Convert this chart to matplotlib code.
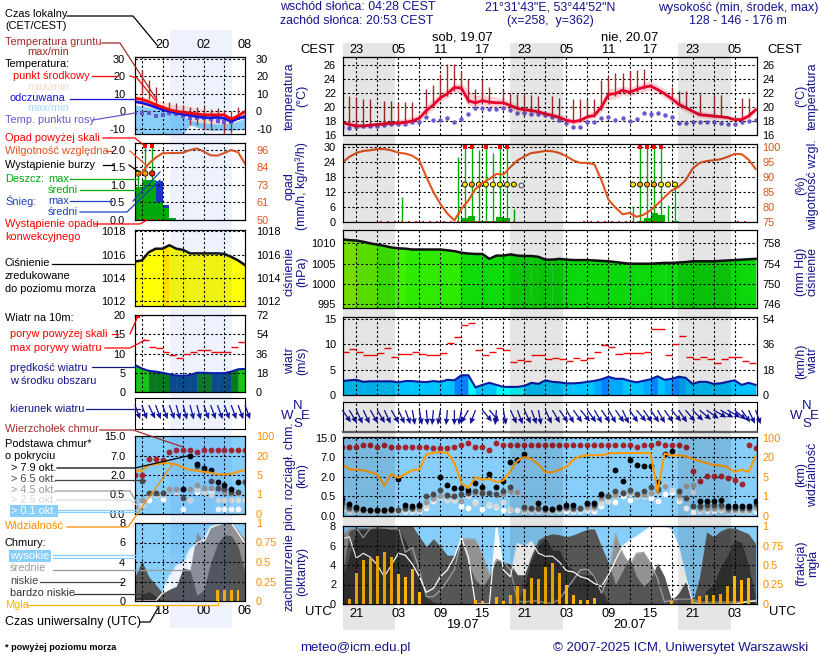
"""Meteogram 19-20.07: left = previous forecast stub, right = main panels."""
import numpy as np
import matplotlib
matplotlib.use("Agg")
import matplotlib.pyplot as plt

plt.rcParams["font.family"] = ["Liberation Sans", "DejaVu Sans"]
plt.rcParams["font.size"] = 7.9

W, H = 820, 660
_ = np.nan

# ---- main panels: hours since 18.07 00 UTC ----
hours = np.arange(19, 79)
temp = [17.8, 17.5, 17.3, 17.3, 17.4, 17.5, 17.6, 17.7, 17.7, 17.8, 18.0, 18.4, 19.5, 20.3, 21.3, 21.9, 22.8, 22.7, 20.9, 20.6,
        20.9, 20.7, 20.6, 20.6, 20.2, 19.8, 19.6, 19.5, 19.3, 19.0, 18.8, 18.5, 18.1, 17.9, 18.1, 18.6, 18.8, 20.0, 21.8, 21.9,
        22.4, 22.1, 22.5, 22.8, 23.0, 22.5, 21.9, 21.2, 20.4, 19.9, 19.4, 18.9, 18.8, 18.7, 18.6, 18.5, 18.2, 18.2, 18.7, 19.6]
temp_max = [18.1, 18.0, 17.7, 17.7, 17.7, 17.8, 17.9, 18.0, 18.2, 18.4, 18.6, 19.0, 20.3, 21.2, 22.0, 22.6, 23.4, 23.4, 22.4, 21.6,
            21.8, 21.6, 21.4, 21.2, 20.8, 20.3, 20.0, 19.9, 19.7, 19.4, 19.2, 19.0, 18.7, 18.3, 18.5, 19.1, 19.5, 20.8, 22.6, 22.7,
            23.0, 22.8, 23.1, 23.5, 23.7, 23.2, 22.6, 21.8, 21.0, 20.4, 19.7, 19.4, 19.3, 19.1, 18.9, 18.6, 18.6, 18.7, 19.2, 20.0]
temp_min = [17.5, 17.2, 17.0, 17.0, 17.1, 17.2, 17.3, 17.4, 17.4, 17.4, 17.6, 17.9, 18.9, 19.6, 20.7, 21.3, 22.2, 21.9, 20.2, 20.1,
            20.3, 20.1, 20.0, 19.9, 19.7, 19.3, 19.2, 19.1, 18.9, 18.7, 18.5, 18.1, 17.7, 17.5, 17.7, 18.2, 18.4, 19.3, 21.0, 21.2,
            21.7, 21.5, 21.9, 22.2, 22.4, 21.9, 21.3, 20.6, 19.9, 19.3, 18.9, 18.5, 18.4, 18.3, 18.3, 18.2, 17.9, 17.8, 18.3, 19.2]
dew = [17.1, 17.0, 17.1, 17.3, 17.3, 17.3, 17.4, 17.5, 17.6, 17.6, 17.8, 17.9, 18.5, 18.1, 18.2, 18.4, 17.9, 18.3, 19.0, 19.8,
       19.8, 19.7, 19.7, 19.8, 19.5, 19.1, 19.1, 19.0, 19.0, 18.8, 18.5, 18.1, 17.7, 17.2, 17.2, 17.8, 17.8, 18.4, 18.6, 18.2,
       18.4, 18.0, 18.3, 19.1, 19.0, 19.1, 18.9, 18.5, 17.7, 17.7, 17.9, 17.9, 17.8, 17.8, 17.7, 17.6, 17.5, 17.8, 18.0, 18.2]
ground_hours = [20, 21, 22, 23, 25, 26, 27, 28, 29, 31, 32, 33, 34, 35, 36, 37, 38, 39, 40, 42, 43, 44, 45, 46, 47, 49, 50, 52, 53,
                54, 55, 56, 57, 58, 59, 60, 61, 62, 66, 67, 68, 70, 72, 73, 76, 77]
ground_max = [21.5, 21.4, 21.2, 21.2, 20.8, 20.9, 20.6, 20.7, 20.7, 22.5, 23.2, 24.7, 26.1, 26.2, 25.2, 24.0, 22.5, 23.8, 22.8, 22.4,
              22.0, 21.9, 21.7, 21.7, 21.6, 21.5, 21.3, 21.2, 21.2, 21.2, 21.2, 23.9, 24.4, 24.8, 24.8, 25.2, 25.3, 25.4, 22.9,
              22.3, 22.3, 21.9, 21.7, 21.7, 21.3, 21.3]
ground_min = [17.0, 17.1, 17.2, 17.3, 17.5, 17.6, 17.6, 17.7, 17.9, 19.0, 20.0, 21.0, 21.6, 22.3, 22.4, 20.6, 20.3, 20.5, 20.4, 20.4,
              20.0, 19.7, 19.4, 19.3, 19.1, 18.6, 18.3, 17.7, 17.9, 18.4, 18.6, 19.6, 21.2, 21.5, 22.0, 21.9, 22.2, 22.5, 21.0,
              20.2, 19.7, 18.8, 18.6, 18.5, 18.1, 18.5]
humidity = [94.8, 96.7, 98.0, 98.7, 98.9, 99.3, 99.3, 98.9, 98.1, 97.8, 97.1, 95.5, 90.0, 85.0, 81.0, 77.8, 75.5, 79.4, 82.2, 86.0,
            88.0, 89.4, 91.0, 90.8, 93.3, 95.5, 96.9, 98.0, 98.3, 98.7, 98.6, 98.0, 96.9, 95.5, 94.7, 94.7, 94.2, 88.9, 82.4, 79.8,
            77.6, 78.0, 76.7, 77.4, 78.9, 81.0, 83.3, 85.5, 86.7, 88.9, 92.8, 94.7, 95.3, 95.6, 95.9, 96.7, 97.7, 97.6, 95.8, 92.7]
rain_max_hours = [27.5, 35.5, 36.5, 37.5, 38.5, 39.5, 40.5, 41.5, 42.5, 43.5, 60.5, 61.5, 62.5, 63.5, 64.5, 65.5, 66.5]
rain_max = [10, 26, 99, 99, 28.7, 99, 27.6, 99, 99, 5.3, 6.5, 99, 99, 99, 99, 7, 15]
rain_mean_hours = [36, 37, 38, 39, 40, 41, 42, 61, 62, 63, 64, 65, 66]
rain_mean = [1.5, 2.3, 0.3, 0.4, 0.3, 2.0, 1.5, 0.5, 1.5, 3.7, 2.7, 0.1, 0.3]
conv_hours = [24.5, 25.5, 26.5, 27.5, 28.5, 29.5, 30.5, 31.5, 32.5, 33.5, 34.5, 35.5, 36.5, 37.5, 38.5, 39.5, 40.5, 41.5, 42.5, 43.5,
              53.5, 54.5, 55.5, 56.5, 57.5, 58.5, 59.5, 60.5, 61.5, 62.5, 63.5, 64.5, 75.5, 76.5]
storm_hours = [36.5, 37.5, 38.5, 39.5, 40.5, 41.5, 42.5, 43.5, 60.5, 61.5, 62.5, 63.5, 64.5, 65.5, 66.5]
storm_colors = ["#ffee00", "#ffa500", "#ffee00", "#ffee00", "#ffee00", "#ffee00", "#ffee00", "#ffee00",
                "#ffee00", "#ffa500", "#ffa500", "#ffa500", "#ffee00", "#ffee00", "#ffee00"]
storm_low_hours = [44.5]
pressure = [1011, 1010.8, 1010.7, 1010.4, 1010, 1009.7, 1009.4, 1009, 1008.8, 1008.7, 1008.5, 1008.5, 1008.5, 1008.5, 1008.5, 1008.3,
            1008.1, 1007.7, 1007.5, 1007.4, 1007.4, 1006.2, 1007, 1007, 1007.3, 1007, 1006.9, 1006.9, 1006.7, 1006, 1006, 1006.2,
            1006, 1005.9, 1005.9, 1005.9, 1005.8, 1005.7, 1005.6, 1005.4, 1005.2, 1005, 1005, 1005, 1005, 1005.1, 1005.2, 1005.2,
            1005.3, 1005.4, 1005.6, 1005.6, 1005.6, 1005.6, 1005.7, 1005.8, 1005.9, 1006, 1006.1, 1006.2]
wind = [2.75, 2.9, 3.0, 2.6, 2.7, 2.7, 2.7, 2.7, 2.5, 2.75, 2.75, 2.6, 2.55, 2.75, 2.6, 3.0, 2.9, 3.9, 3.9, 1.5,
        2.0, 2.4, 2.0, 1.6, 1.6, 1.6, 1.8, 2.4, 2.2, 2.9, 2.6, 2.5, 2.3, 2.3, 2.4, 2.6, 2.8, 3.1, 3.6, 3.2,
        3.2, 2.8, 2.5, 2.8, 3.1, 3.7, 3.0, 3.2, 3.6, 3.4, 2.2, 2.6, 2.6, 2.2, 2.3, 2.6, 2.9, 2.0, 2.4, 2.0]
gust = [8.55, 9.1, 8.4, 7.8, 7.8, 8.2, 9.2, 7.6, 8.1, 8.1, 8.4, 8.0, 7.8, 7.8, 8.2, 10.2, 11.4, 13.9, 14.3, 8.8,
        7.8, 8.4, 9.2, 8.8, 6.6, 7.0, 6.8, 7.8, 7.8, 7.2, 7.4, 7.2, 6.8, 7.4, 7.0, 7.4, 8.4, 9.9, 9.5, 8.0,
        8.2, 8.2, 8.2, 8.4, 13.0, 13.0, 7.8, 10.0, 11.6, 7.6, 7.2, 7.6, 7.2, 6.4, 7.2, 7.6, 7.6, 6.8, 6.4]
wind_from = [325, 330, 335, 335, 330, 330, 335, 330, 335, 340, 350, 350, 355, 5, 10, 5, 0, 10, 30, 20,
             320, 320, 5, 350, 335, 340, 335, 340, 350, 335, 330, 325, 330, 325, 320, 325, 330, 325, 330, 325,
             335, 325, 320, 325, 325, 330, 325, 320, 325, 320, 315, 310, 305, 300, 300, 300, 310, 325, 335, 340]
cloud_top = [11.3, 11.3, 11.3, 12.0, 12.0, 11.3, 12.0, 11.3, 11.3, 11.3, 11.3, 11.3, 11.3, 10.9, 10.9, 10.9, 11.3, 12.0, 12.6, 11.3,
             11.3, 9.9, 12.6, 12.0, 12.0, 12.0, 12.0, 12.0, 12.0, 12.0, 12.0, 12.0, 12.0, 12.0, 12.0, 12.0, 12.0, 12.0, 12.0, 12.0,
             12.0, 12.0, 11.3, 12.0, 12.0, 12.6, 12.0, 12.0, 12.0, 11.3, 3.4, 1.65, 2.3, 2.3, 2.1, 1.9, 1.75, 1.47, 12.0, 10.9]
base_79 = [.44, .31, .24, .17, .16, .16, .16, .17, 1.8, .28, .26, .28, _, _, 1.96, 1.4, 1.13, 1.13, 1.0, 1.52,
           1.25, 2.7, 1.25, 1.65, 5.9, 6.4, 8.5, _, .34, .21, .17, .22, .28, .28, _, .34, .34, .67, _, 3.85,
           1.65, 6.2, 4.9, 4.8, 4.7, 1.6, 8.1, 9.5, _, _, _, .37, .39, .39, .4, .26, .25, .26, .26, .37]
base_65 = [.32, .22, .17, .16, .15, .15, .15, .16, .16, .2, .2, .25, .52, .7, 1.0, .6, .55, .7, .75, .95,
           .75, .75, .7, .9, 1.2, _, .22, .2, .2, .18, .17, .2, .24, .2, .2, .3, .28, .6, .55, .9,
           .75, 1.0, .7, .95, 1.2, 1.1, _, _, .9, .45, .25, .25, .27, .28, .28, .2, .2, .2, .2, .3]
base_45 = [.24, .18, .15, .15, .14, .14, .14, .15, .15, .17, .17, .19, .35, .45, .55, .55, .52, .38, .75, .75,
           .9, .75, .6, .65, .93, .85, .18, .18, .17, .16, .15, .17, .2, .17, .17, .24, .22, .45, .55, .6,
           .8, .85, .6, .6, .75, .95, 1.3, _, .6, 1.3, 1.35, .2, .2, .2, .22, .16, .16, .16, .16, .22]
base_25 = [.19, .15, .13, .13, .13, .13, .13, .13, .13, .15, .15, .16, .25, .4, .5, .42, .42, .38, .55, .32,
           .75, .3, .25, .35, .17, .75, .16, .16, .15, .14, .14, .15, .17, .15, .15, .19, .18, .32, .38, .55,
           .65, .7, .6, .58, .65, .85, 1.35, 1.0, .45, 1.3, .85, .16, .17, .17, .18, .14, .14, .14, .14, .18]
base_01 = [.15, .13, .12, .12, .12, .12, .12, .12, .12, .13, .13, .14, .2, .38, .48, .42, .42, .25, .2, .36,
           .18, .27, .24, .15, .15, .15, .14, .14, .13, .13, .13, .13, .14, .13, .13, .15, .14, .25, .38, .36,
           .55, .42, .5, .5, .45, .38, .7, .8, .38, .2, .1, .14, .14, .14, .15, .12, .12, .12, .12, .14]
visibility = [14.9, 10.5, 10.5, 10.0, 8.5, 6.7, 3.2, 7.1, 4.8, 7.1, 10.0, 10.5, 31, 37.6, 41, 37.6, 15.6, 3.7, 2.7, 4.9,
              4.4, 4.6, 3.9, 4.3, 9.2, 17.4, 20, 18.8, 14.3, 8.5, 8.5, 10.5, 12.5, 18.2, 24, 28, 28, 28, 35, 37,
              37, 37, 37, 37, 36, 2.0, 35, 27, 28, 24, 18.8, 17, 15.6, 14, 13.6, 12.5, 8.7, 10.5, 8.7, 24]
cloud_high = [6.7, 6.9, 4.7, 5.2, 4.8, 4.0, 2.8, 4.0, 5.2, 5.0, 4.1, 2.8, 1.2, 1.6, 2.8, 3.5, 4.8, 6.8, 4.8, 0,
              0, 0, 8.0, 3.5, 2.8, 6.2, 5.9, 6.4, 5.2, 4.9, 4.9, 4.3, 3.4, 3.3, 2.8, 2.6, 2.1, 1.8, 3.0, 4.5,
              5.9, 6.5, 6.9, 7.4, 7.9, 8.0, 7.9, 7.6, 5.9, 2.8, .2, 0, 0, 0, 0, 0, 0, .1, .3, .3]
cloud_mid = [7.0, 7.7, 7.8, 6.8, 7.8, 7.8, 7.8, 7.7, 7.8, 5.3, 5.8, 3.5, .75, .75, 1.4, 2.4, 3.5, 6.6, 6.7, 6.6,
             5.0, 3.0, 4.6, 4.3, 3.5, .3, .2, .3, .3, .1, .1, .5, 1.5, 2.5, 3.5, 3.6, 2.8, 1.1, 2.8, 7.2,
             5.2, 4.0, 5.2, 5.3, 4.2, 2.6, .2, .4, .5, .5, .5, .2, .2, .2, .2, .2, .2, .2, .2, .4]
cloud_low = [3.0, 7.5, 7.8, 7.8, 7.8, 7.9, 7.9, 7.9, 7.9, 8.0, 8.0, 6.9, 5.9, 6.7, 5.9, 5.0, 5.0, 6.5, 4.1, 2.5,
             1.8, 2.8, 4.5, 4.3, 4.1, 3.0, 3.0, 5.0, 6.6, 7.0, 7.2, 7.1, 6.9, 7.1, 7.4, 7.7, 7.7, 5.9, 4.2, 2.0,
             3.4, 4.8, 2.8, 1.8, 2.5, 4.2, 2.8, .4, 1.1, 2.3, .2, 2.8, 7.4, 6.9, 7.5, 7.8, 7.8, 7.5, 7.2, 6.2]
cloud_vlow = [2.8, 5.0, 7.5, 7.6, 7.6, 7.9, 7.9, 7.6, 7.6, 6.5, 4.5, 2.5, .7, .2, 0, 0, 0, 0, 0, 0,
              0, 0, 0, 0, 0, 0, 2.0, 4.5, 6.0, 6.8, 5.5, 5.5, 4.0, 3.5, 3.0, 3.0, 3.0, 1.5, 0, 0,
              0, 0, 0, 0, 0, 0, 0, 0, 0, 0, 0, 0, 1.4, 2.0, 3.8, 5.0, 6.6, 6.3, 4.0, .5]
fog_hours = [20, 21, 22, 23, 24, 25, 26, 27, 28, 29, 30, 38, 39, 41, 42, 43, 44, 45, 46, 47, 48, 49, 50, 51, 52, 53, 54, 55, 66, 69, 70, 71, 72, 73, 74, 75, 76, 77]
fog = [.07, .4, .57, .59, .62, .67, .6, .39, .34, .45, .16, .05, .04, .09, .04, .11, .23, .19, .33, .32, .48, .52, .4, .25, .11, .05, .05, .08,
       .04, .06, .1, .11, .11, .13, .23, .36, .31, .33]

# ---- small left panels: the preceding afternoon ----
l_hours = np.arange(14, 31)
l_temp = [7.4, 6.8, 5.5, 3.8, 2.3, 1.0, 0.0, -0.5, -1.0, -1.5, -2.0, -2.0, -2.0, -2.0, -4.5, -2.5, -0.2]
l_temp_max = [9.4, 8.8, 7.5, 6.5, 5.5, 4.5, 3.6, 3.2, 2.7, 1.8, .8, .4, -.2, -1.2, -3, -1.8, -.2]
l_feels = [5.5, 4.8, 3.7, 2.3, 1.0, 0.0, -1.0, -1.8, -2.3, -3.0, -3.5, -3.7, -3.4, -4.0, -5.8, -4.0, -3.0]
l_feels_max = [3.6, 3, 2.2, 1.5, .8, -.2, -1.5, -3, -5, -6, -6.5, -7, -7.2, -7, -6.8, -5.5, -4]
l_feels_min = [-14, -14, -14, -14, -14, -14, -14, -13, -7.5, -9, -10, -10.8, -10.8, -10.8, -10.8, -10.6, -10]
l_dew = [-1.2, -1.2, -1.2, -2.5, -2.2, -1.2, -1.8, -2.5, -4, -4, -4, -4.6, -5.4, -6, -6, -4, -3]
l_ground_hours = [15, 16, 17, 19, 20, 21, 22, 23, 24, 25, 26, 27, 28, 29]
l_ground_max = [23.5, 17.6, 14, 5.5, 4.6, 3.6, 2.7, 2.7, 2.7, 1.2, 1.7, .8, 0, 2.7]
l_ground_min = [9, 7, 4, -2, -2, -3.8, -7.6, -8, -10.6, -10.6, -6.8, -12.8, -12.3, -3.8]
l_humidity = [79, 81, 87, 91, 93.8, 94, 94, 94.2, 96, 97, 95, 92.5, 92.3, 94, 96, 94.5, 87]
l_rain = [.95, 1.14, 1.14, .52, .33, .07]
l_snow = [0, 0, 0, 1.1, .43, 0]
l_rain_max_hours = [14.5, 15.5, 16.5]
l_rain_max = [1.33, 99, 99]
l_storm_colors = ["#ffee00", "#ffa500", "#ff2000"]
l_conv_hours = [14.5, 15.5, 16.5, 17.5]
l_pressure = [1015.4, 1015.5, 1016.2, 1016.5, 1016.5, 1016.8, 1016.5, 1016.4, 1016.1, 1016.1, 1016.1, 1016.1, 1016.1, 1016.05, 1015.8, 1015.5, 1015.1]
l_wind = [7, 6.1, 5.5, 5.3, 5, 4.6, 4.3, 4.2, 4.4, 5, 5, 4.9, 4.9, 4.9, 5.3, 5.9, 6]
l_gust = [_, 13.5, 11.6, 11.4, 10.5, 9.6, 8.8, 9.8, 10.4, 10.8, 10.8, 10.4, 10.4, 10.4, 11.7, 12.9]
l_wind_from = [340, 340, 335, 340, 340, 340, 345, 345, 345, 345, 340, 340, 340, 340, 340, 340, 340]
l_cloud_top = [2, 2, 6.2, 6.2, 5.8, 8.5, 9.4, 9.4, 9.4, 8.5, 9.4, 9.4, 9.4, 9.4, 9.4, 9.4, 9.4]
l_base_79 = [_, _, _, _, _, _, _, .9, 6.8, 4.7, 3.9, 3.2, 1.5, 1.2, .9, 1.5, _]
l_base_65 = [_, 1.54, .65, .65, .65, _, _, .4, _, 4.2, 3.4, 1.54, 1.0, .9, .72, .72, 1.5]
l_base_45 = [.2, .36, .6, .6, .6, .9, .9, .9, .9, 1.23, .97, .97, .9, .72, .6, .6, 1.54]
l_base_25 = [.2, .23, .49, .49, .49, .9, .72, .38, .36, .9, .72, .49, .36, .36, .36, .36, .36]
l_base_01 = [_, .23, .36, _, .38, _, _, .13, .36, .72, .72, .72, .13, .13, .13, .13, _]
l_visibility = [8.3, 8.3, 12.7, 13.4, 14, 14, 13, 10.7, 8.9, 8.3, 7.5, 6.8, 5.5, 5.5, 5.8, 7.5, 8.9]
l_cloud_high = [0, 0, 0, 0, .8, 2.5, 3.6, 3.9, 5.3, 5.9, 6.3, 7.6, 7.8, 8, 8, 7, 5.9]
l_cloud_mid = [0, 0, 0, 0, 0, 0, 0, 0, 3.2, 7.1, 6, 7.5, 7.8, 8, 8, 7.3, 6.3]
l_cloud_low = [2.5, 4.1, 2.5, 1.7, .8, 1.2, 1.5, 3.4, 3.2, .6, 1.1, 3.9, 5.9, 6.8, 6.7, 5.6, 2.9]
l_cloud_vlow = [.3, .5, 1, .5, 0, 0, 0, 0, 0, 0, 0, 0, 0, 0, 0, 0, 0]
l_fog_hours = [26, 27, 28, 29]
l_fog = [.14, .14, .14, .14]

# ---- ticks ----
base_ticks = [0, 0.5, 2, 7, 15]
vis_ticks = [0, 1, 5, 20, 100]
main_xlim = (19.1, 78.2)
left_xlim = (14, 30)
nights = [(18.88, 26.47), (42.88, 50.47), (66.88, 74.47)]
left_night = (19.1, 28.1)
utc_ticks = [21, 27, 33, 39, 45, 51, 57, 63, 69, 75]
utc_labels = ["21", "03", "09", "15", "21", "03", "09", "15", "21", "03"]
cest_labels = ["23", "05", "11", "17", "23", "05", "11", "17", "23", "05"]

NAVY = "#14148c"
BROWN = "#a52a2a"
HUM = "#e2531c"
VIS = "#ff8c00"
FOG = "#ffb400"
SKY = "#87cefa"
TIME_SIZE = 9.2

fig = plt.figure(figsize=(W / 100, H / 100), dpi=100, facecolor="white")


def panel(x0, x1, y0, y1, xlim, ylim, yticks, ylabels, grid_x, pad=5):
    ax = fig.add_axes([x0 / W, 1 - y1 / H, (x1 - x0) / W, (y1 - y0) / H])
    ax.set_xlim(xlim)
    ax.set_ylim(ylim)
    ax.set_xticks(grid_x)
    ax.set_xticklabels([])
    ax.set_yticks(yticks)
    ax.set_yticklabels(ylabels)
    ax.tick_params(length=0, pad=pad)
    ax.set_axisbelow(False)
    ax.grid(True, color="black", linestyle=(0, (2, 2)), linewidth=0.8)
    ax.patch.set_alpha(0)
    return ax


def right_axis(ax, ylim, yticks, ylabels, color="black", pad=4):
    tw = ax.twinx()
    tw.set_ylim(ylim)
    tw.set_yticks(yticks)
    tw.set_yticklabels(ylabels, color=color)
    tw.tick_params(length=0, pad=pad)
    return tw


def column_fill(ax, xs, ys, colors, bottom):
    # one colour per hourly column under the line, taken from the column's end hour
    for i in range(len(xs) - 1):
        ax.fill_between(xs[i:i + 2], ys[i:i + 2], bottom, color=colors[i + 1], linewidth=0.4, zorder=1)


def to_level(values, ticks):
    return np.interp(values, ticks, np.arange(5))


def pressure_color(p):
    stops = [1005, 1006.5, 1007.5, 1008.5, 1009.5, 1010.5, 1011]
    cols = ["#0ad80a", "#0edc0a", "#2eea00", "#40f000", "#66f500", "#80f800", "#a8f500"]
    return cols[int(np.searchsorted(stops, p)) - 1] if p > stops[0] else cols[0]


def wind_color(v):
    if v >= 3.5:
        return "#0a80ff"
    if v >= 3.05:
        return "#00a8ff"
    if v >= 1.9:
        return "#00c4ff"
    return "#00ffff"


def left_wind_color(v):
    if v >= 5.9:
        return "#18c418"
    if v >= 4.95:
        return "#0a7a1e"
    return "#0a4a86"


def time_labels(ax, ticks, labels, pad):
    ax.xaxis.remove_overlapping_locs = False
    ax.set_xticks(ticks, minor=True)
    ax.set_xticklabels(labels, minor=True, size=TIME_SIZE)
    ax.tick_params(axis="x", which="minor", length=0, pad=pad)


def top_labels(ax, ticks, labels, pad):
    top = ax.secondary_xaxis("top")
    top.set_xticks(ticks)
    top.set_xticklabels(labels, size=TIME_SIZE)
    top.tick_params(length=0, pad=pad)


# ---- main column ----
main_grid = np.arange(21, 78, 3)
ax = panel(343, 757, 57, 135, main_xlim, (16, 27.14), [16, 18, 20, 22, 24, 26], ["16", "18", "20", "22", "24", "26"], main_grid)
ax.fill_between(hours, temp_min, temp_max, color="#ffd0d8", linewidth=0, zorder=1)
ax.vlines(ground_hours, ground_min, ground_max, color=BROWN, lw=1, zorder=3)
ax.plot(hours, dew, linestyle="none", marker="o", ms=2.2, color="#6a5acd", zorder=3.5)
ax.plot(hours, temp, color="#e8002c", lw=2, zorder=4)
right_axis(ax, (16, 27.14), [16, 18, 20, 22, 24, 26], ["16", "18", "20", "22", "24", "26"])
top_labels(ax, utc_ticks, cest_labels, 1)

ax = panel(343, 757, 144, 222, main_xlim, (0, 31.2), [0, 6, 12, 18, 24, 30], ["0", "6", "12", "18", "24", "30"], main_grid)
ax.bar(rain_mean_hours, rain_mean, width=1, align="edge", color="#00b000", zorder=2)
ax.vlines(rain_max_hours, 0, np.minimum(rain_max, 30), color="#00b000", lw=1, zorder=3)
over = [h for h, v in zip(rain_max_hours, rain_max) if v > 30]
ax.plot(over, [30] * len(over), "s", ms=2.2, mew=0, color="red", zorder=4)
ax.plot(conv_hours, [0] * len(conv_hours), "s", ms=2, mew=0, color="#f01010", clip_on=False, zorder=4)
ax.scatter(storm_hours, [15] * len(storm_hours), s=13, c=storm_colors, edgecolors="black", linewidths=0.6, zorder=5)
ax.scatter(storm_low_hours, [15], s=13, c="white", edgecolors="#555555", linewidths=0.7, zorder=5)
tw = right_axis(ax, (75, 101), [75, 80, 85, 90, 95, 100], ["75", "80", "85", "90", "95", "100"], HUM)
tw.plot(hours, humidity, color=HUM, lw=1.5)

ax = panel(343, 757, 230, 308, main_xlim, (994.1, 1013.3), [995, 1000, 1005, 1010], ["995", "1000", "1005", "1010"], main_grid)
column_fill(ax, hours, pressure, [pressure_color(p) for p in pressure], 994.1)
ax.plot(hours, pressure, color="#111111", lw=1.8, zorder=3)
right_axis(ax, (994.1, 1013.3), [995, 1000, 1005, 1010], ["746", "750", "754", "758"])

ax = panel(343, 757, 317, 395, main_xlim, (0, 15.4), [0, 5, 10, 15], ["0", "5", "10", "15"], main_grid)
column_fill(ax, hours, wind, [wind_color(v) for v in wind], 0)
ax.plot(hours, wind, color="#0a1aa0", lw=1.5, zorder=3)
ax.hlines(gust, hours[:-1], hours[:-1] + 1, color="red", lw=1, zorder=3)
right_axis(ax, (0, 15.4 * 3.6), [0, 18, 36, 54], ["0", "18", "36", "54"])

ax = panel(343, 757, 402, 432, main_xlim, (0, 1), [], [], main_grid)
d = np.radians(wind_from)
ax.quiver(hours, [0.73] * len(hours), -np.sin(d) * 15, -np.cos(d) * 15, units="dots", angles="uv", scale_units="dots", scale=1,
          width=1.3, headwidth=4.5, headlength=5, headaxislength=4.5, color="#14149a", zorder=3, clip_on=False)
ax.spines["bottom"].set_color("#666666")
ax.spines["bottom"].set_linewidth(1.6)

ax = panel(343, 757, 437, 516, main_xlim, (0, 4.03), [0, 1, 2, 3, 4], ["0.0", "0.5", "2.0", "7.0", "15.0"], main_grid)
ax.set_facecolor(SKY)
ax.patch.set_alpha(1)
base_series = [(base_01, "white"), (base_25, "#d8d8d8"), (base_45, "#999999"), (base_65, "#4a4a4a"), (base_79, "black")]
ax.plot(hours, to_level(cloud_top, base_ticks), "o", ms=4.2, mew=0, color="#a5242c", zorder=3)
for vals, col in base_series:
    ax.plot(hours, to_level(vals, base_ticks), "o", ms=4.2, mew=0, color=col, zorder=3)
tw = right_axis(ax, (0, 4.03), [0, 1, 2, 3, 4], ["0", "1", "5", "20", "100"], VIS)
tw.plot(hours, to_level(visibility, vis_ticks), color="#ff9a00", lw=1.5)

ax = panel(343, 757, 526, 604, main_xlim, (0, 8), [0, 2, 4, 6, 8], ["0", "2", "4", "6", "8"], main_grid)
ax.set_facecolor(SKY)
ax.patch.set_alpha(1)
ax.fill_between(hours, 0, cloud_high, color="white", linewidth=0, zorder=1)
ax.fill_between(hours, 0, cloud_mid, color="#929292", linewidth=0, zorder=1.1)
ax.fill_between(hours, 0, cloud_low, color="#565656", linewidth=0, zorder=1.2)
ax.fill_between(hours, 0, cloud_vlow, color="#333333", linewidth=0, zorder=1.3)
ax.plot(hours, cloud_mid, color="#a0a0a0", lw=0.9, zorder=1.5)
ax.plot(hours, cloud_high, color="white", lw=0.9, zorder=1.6)
time_labels(ax, utc_ticks, utc_labels, 3)
tw = right_axis(ax, (0, 1), [0, .25, .5, .75, 1], ["0", "0.25", "0.5", "0.75", "1"], VIS)
tw.bar(fog_hours, fog, width=0.38, color=FOG)

# ---- left column ----
left_grid = [15, 18, 21, 24, 27]
PL = 7
PR = 8
ax = panel(135, 245, 57, 134, left_xlim, (-12.9, 30.9), [-10, 0, 10, 20, 30], ["-10", "0", "10", "20", "30"], left_grid, PL)
ax.fill_between(l_hours, l_feels_max, l_temp_max, color="#fde3d6", linewidth=0, zorder=1)
ax.fill_between(l_hours, l_feels_min, l_feels_max, color=SKY, linewidth=0, zorder=1.1)
ax.vlines(l_ground_hours, l_ground_min, l_ground_max, color=BROWN, lw=1, zorder=3)
ax.plot(l_hours, l_dew, linestyle="none", marker="s", ms=2.6, mew=0, color="#6a5acd", zorder=3.3)
ax.plot(l_hours, l_feels, color="#1414e0", lw=2, zorder=3.4)
ax.plot(l_hours, l_temp, color="red", lw=2, zorder=4)
right_axis(ax, (-12.9, 30.9), [-10, 0, 10, 20, 30], ["-10", "0", "10", "20", "30"], pad=PR)
top_labels(ax, [18, 24, 30], ["20", "02", "08"], 4)

ax = panel(135, 245, 143, 220, left_xlim, (0, 2.2), [0, .5, 1, 1.5, 2], ["0.0", "0.5", "1.0", "1.5", "2.0"], left_grid, PL)
ax.bar(l_hours[:6], l_snow, width=1, align="edge", color="#1a34c8", zorder=1.5)
ax.bar(l_hours[:6], l_rain, width=1, align="edge", color="#00a80c", zorder=2)
ax.vlines(l_rain_max_hours, 0, np.minimum(l_rain_max, 2.12), color="#00a80c", lw=1, zorder=3)
ax.plot([15.5, 16.5], [2.12, 2.12], "s", ms=2.4, mew=0, color="red", zorder=4)
ax.plot(l_conv_hours, [0] * 4, "s", ms=2, mew=0, color="#f01010", zorder=4, clip_on=False)
ax.scatter(l_rain_max_hours, [1.33] * 3, s=15, c=l_storm_colors, edgecolors="black", linewidths=0.6, zorder=5)
tw = right_axis(ax, (50, 100.6), [50, 61.5, 73, 84.5, 96], ["50", "61", "73", "84", "96"], HUM, PR)
tw.plot(l_hours, l_humidity, color=HUM, lw=1.5)

ax = panel(135, 245, 230, 306, left_xlim, (1011.6, 1018.1), [1012, 1014, 1016, 1018], ["1012", "1014", "1016", "1018"], left_grid, PL)
column_fill(ax, l_hours, l_pressure, ["#ffdd00" if p > 1016.6 else "#ffff00" for p in l_pressure], 1011.6)
ax.plot(l_hours, l_pressure, color="#111111", lw=1.8, zorder=3)
right_axis(ax, (1011.6, 1018.1), [1012, 1014, 1016, 1018], ["1012", "1014", "1016", "1018"], pad=PR)

ax = panel(135, 245, 315, 392, left_xlim, (0, 20), [0, 5, 10, 15, 20], ["0", "5", "10", "15", "20"], left_grid, PL)
for i in range(len(l_hours) - 1):
    ax.fill_between(l_hours[i:i + 2], l_wind[i:i + 2], 0, color=left_wind_color(l_wind[i]), linewidth=0.4, zorder=1)
ax.plot(l_hours, l_wind, color="#0a1aa0", lw=1.5, zorder=3)
ax.hlines(l_gust, l_hours[:-1], l_hours[:-1] + 1, color="red", lw=1, zorder=3)
ax.plot([14.5], [19.8], "s", ms=2.4, mew=0, color="red", zorder=4)
right_axis(ax, (0, 72), [0, 18, 36, 54, 72], ["0", "18", "36", "54", "72"], pad=PR)

ax = panel(135, 245, 398, 429, left_xlim, (0, 1), [], [], left_grid, PL)
d = np.radians(l_wind_from)
ax.quiver(l_hours, [0.77] * len(l_hours), -np.sin(d) * 15, -np.cos(d) * 15, units="dots", angles="uv", scale_units="dots", scale=1,
          width=1.3, headwidth=4.5, headlength=5, headaxislength=4.5, color="#14149a", zorder=3, clip_on=False)

ax = panel(135, 245, 436, 514, left_xlim, (0, 4), [0, 1, 2, 3, 4], ["0.0", "0.5", "2.0", "7.0", "15.0"], left_grid, PL)
ax.set_facecolor(SKY)
ax.patch.set_alpha(1)
l_base_series = [(l_base_01, "white"), (l_base_25, "#d8d8d8"), (l_base_45, "#999999"), (l_base_65, "#4a4a4a"), (l_base_79, "black")]
ax.plot(l_hours, to_level(l_cloud_top, base_ticks), "o", ms=4.2, mew=0, color="#a5242c", zorder=3)
for vals, col in l_base_series:
    ax.plot(l_hours, to_level(vals, base_ticks), "o", ms=4.2, mew=0, color=col, zorder=3)
tw = right_axis(ax, (0, 4), [0, 1, 2, 3, 4], ["0", "1", "5", "20", "100"], VIS, PR)
tw.plot(l_hours, to_level(l_visibility, vis_ticks), color="#ff9a00", lw=1.5)

ax = panel(135, 245, 523, 601, left_xlim, (0, 8), [0, 2, 4, 6, 8], ["0", "2", "4", "6", "8"], left_grid, PL)
ax.set_facecolor(SKY)
ax.patch.set_alpha(1)
ax.fill_between(l_hours, 0, l_cloud_high, color="white", linewidth=0, zorder=1)
ax.fill_between(l_hours, 0, l_cloud_mid, color="#929292", linewidth=0, zorder=1.1)
ax.fill_between(l_hours, 0, l_cloud_low, color="#565656", linewidth=0, zorder=1.2)
ax.fill_between(l_hours, 0, l_cloud_vlow, color="#333333", linewidth=0, zorder=1.3)
ax.plot(l_hours, l_cloud_high, color="white", lw=0.9, zorder=1.6)
time_labels(ax, [18, 24, 30], ["18", "00", "06"], 3)
tw = right_axis(ax, (0, 1), [0, .25, .5, .75, 1], ["0", "0.25", "0.5", "0.75", "1"], VIS, PR)
tw.bar(l_fog_hours, l_fog, width=0.38, color=FOG)

# ---- night bands over everything ----
band = fig.add_axes([343 / W, 1 - 630 / H, 414 / W, 587 / H], zorder=6)
band.set_xlim(main_xlim)
band.axis("off")
for a, b in nights:
    band.axvspan(a, b, color="black", alpha=0.1, linewidth=0)
band = fig.add_axes([135 / W, 1 - 628 / H, 110 / W, 598 / H], zorder=6)
band.set_xlim(left_xlim)
band.axis("off")
band.axvspan(left_night[0], left_night[1], color="#2060e0", alpha=0.08, linewidth=0)

# ---- labels and leader lines, in pixels ----
canvas = fig.add_axes([0, 0, 1, 1], zorder=10)
canvas.set_xlim(0, W)
canvas.set_ylim(H, 0)
canvas.axis("off")

left_text = [
    (5, 14, "Czas lokalny", "black"), (5, 26, "(CET/CEST)", "black"),
    (5, 42, "Temperatura gruntu", BROWN), (27, 52, "max/min", BROWN),
    (5, 64, "Temperatura:", "black"), (13, 76, "punkt środkowy", "red"),
    (27, 87, "max/min", "#f8d8c8"), (10, 98, "odczuwana", "#1414e0"),
    (27, 108, "max/min", "#a8dcf8"), (5, 120, "Temp. punktu rosy", "#6a5acd"),
    (5, 138, "Opad powyżej skali", "red"), (5, 151, "Wilgotność względna", HUM),
    (5, 165, "Wystąpienie burzy", "black"), (5, 179, "Deszcz:", "#00a80c"),
    (48, 179, "max", "#00a80c"), (48, 190, "średni", "#00a80c"),
    (5, 201, "Śnieg:", "#2040c0"), (48, 201, "max", "#2040c0"), (48, 212, "średni", "#2040c0"),
    (5, 224, "Wystąpienie opadu", "red"), (5, 237, "konwekcyjnego", "red"),
    (5, 263, "Ciśnienie", "black"), (5, 276, "zredukowane", "black"), (5, 289, "do poziomu morza", "black"),
    (5, 318, "Wiatr na 10m:", "black"), (10, 334, "poryw powyżej skali", "red"), (10, 348, "max porywy wiatru", "red"),
    (10, 368, "prędkość wiatru", NAVY), (10, 381, "w środku obszaru", NAVY), (10, 409, "kierunek wiatru", NAVY),
    (5, 429, "Wierzchołek chmur", BROWN), (5, 444, "Podstawa chmur*", "black"), (5, 456, "o pokryciu", "black"),
    (11, 468, "> 7.9 okt.", "black"), (11, 479, "> 6.5 okt.", "#444444"), (11, 490, "> 4.5 okt.", "#999999"),
    (11, 500, "> 2.5 okt.", "#d8d8d8"), (5, 526, "Widzialność", VIS),
    (5, 543, "Chmury:", "black"), (10, 568, "średnie", "#999999"), (10, 581, "niskie", "#444444"),
    (10, 593, "bardzo niskie", "#333333"), (5, 605, "Mgła", FOG),
]
for x, y, s, c in left_text:
    canvas.text(x, y, s, color=c, va="center", ha="left")
canvas.text(5, 622, "Czas uniwersalny (UTC)", color="black", va="center", size=9)
canvas.text(11, 511, "> 0.1 okt.", color="white", va="center", bbox=dict(fc=SKY, ec="none", pad=1))
canvas.text(10, 556, "wysokie", color="white", va="center", bbox=dict(fc=SKY, ec="none", pad=1))
canvas.text(5, 648, "* powyżej poziomu morza", color="black", va="center", size=6.6, fontweight="bold")

leaders = [
    ([67, 133, 157], [16, 16, 45], "black"), ([102, 120, 157], [43, 43, 100], BROWN),
    ([92, 117], [76, 76], "red"), ([130, 137, 155], [76, 78, 100], "red"),
    ([70, 135], [99, 99], "#1414e0"), ([93, 135], [120, 113], "#6a5acd"),
    ([103, 135, 146], [138, 138, 147], "red"), ([106, 112], [151, 151], HUM), ([130, 146], [151, 165], HUM),
    ([103, 113], [165, 165], "black"), ([129, 139], [165, 172], "black"),
    ([70, 138], [179, 179], "#00a80c"), ([80, 140], [190, 190], "#00a80c"),
    ([70, 112], [201, 201], "#2040c0"), ([133, 160], [201, 172], "#2040c0"), ([80, 127, 160], [212, 212, 180], "#2040c0"),
    ([95, 140, 147], [224, 224, 220], "red"), ([52, 135], [264, 264], "black"),
    ([112, 118], [334, 334], "red"), ([130, 138], [334, 316], "red"), ([105, 130, 145], [348, 348, 340], "red"),
    ([92, 135], [367, 367], NAVY), ([86, 140], [409, 409], NAVY), ([100, 133, 183], [430, 430, 447], BROWN),
    ([57, 135, 192], [468, 468, 455], "black"), ([55, 145], [480, 480], "#444444"), ([55, 130, 137], [491, 491, 503], "#999999"),
    ([57, 130, 137], [500, 500, 505], "#d8d8d8"), ([57, 135], [510, 510], SKY), ([57, 135], [512, 512], SKY),
    ([67, 128, 172], [527, 527, 465], VIS), ([53, 185], [555, 555], SKY), ([53, 185], [558, 558], SKY),
    ([53, 192], [570, 570], "#999999"), ([40, 122], [582, 582], "#444444"), ([74, 150], [594, 594], "#333333"),
    ([27, 218, 218], [605, 605, 590], FOG), ([140, 150, 158], [622, 622, 608], "black"),
]
for xs, ys, c in leaders:
    canvas.plot(xs, ys, color=c, lw=0.9)

head_text = [
    (280, 7, "wschód słońca: 04:28 CEST", "left", 8.9), (280, 21, "zachód słońca: 20:53 CEST", "left", 8.9),
    (550, 7, "21°31'43\"E, 53°44'52\"N", "center", 8.9), (550, 21, "(x=258,  y=362)", "center", 8.9),
    (818, 8, "wysokość (min, środek, max)", "right", 8.9), (738, 21, "128 - 146 - 176 m", "center", 8.9),
    (300, 648, "meteo@icm.edu.pl", "left", 9.5), (553, 648, "© 2007-2025 ICM, Uniwersytet Warszawski", "left", 9.5),
]
for x, y, s, ha, size in head_text:
    canvas.text(x, y, s, color=NAVY, va="center", ha=ha, size=size)

for x, y, s in [(318, 50, "CEST"), (785, 50, "CEST"), (318, 612, "UTC"), (782, 612, "UTC"),
                (462, 37, "sob, 19.07"), (630, 37, "nie, 20.07"), (462, 625, "19.07"), (630, 625, "20.07")]:
    canvas.text(x, y, s, color="black", va="center", ha="center", size=9.4)

side_left = [(296, 96, "temperatura\n(°C)"), (296, 186, "opad\n(mm/h, kg/m³/h)"), (296, 272, "ciśnienie\n(hPa)"),
             (296, 361, "wiatr\n(m/s)"), (296, 476, "pion. rozciągł. chm.\n(km)"), (296, 572, "zachmurzenie\n(oktanty)")]
side_right = [(807, 96, "(°C)\ntemperatura"), (807, 185, "(%)\nwilgotność wzgl."), (807, 272, "(mm Hg)\nciśnienie"),
              (807, 361, "(km/h)\nwiatr"), (807, 475, "(km)\nwidzialność"), (807, 563, "(frakcja)\nmgła")]
for x, y, s in side_left + side_right:
    canvas.text(x, y, s, color=NAVY, rotation=90, va="center", ha="center", linespacing=1.0, multialignment="center", size=9)

for x0 in (295, 804):
    for dx, dy, s in [(-8, 1, "W"), (3, -9, "N"), (10, 1, "E"), (3, 9, "S")]:
        canvas.text(x0 + dx, 415 + dy, s, color=NAVY, va="center", ha="center", size=9.5)

fig.savefig("out.png", dpi=100)
